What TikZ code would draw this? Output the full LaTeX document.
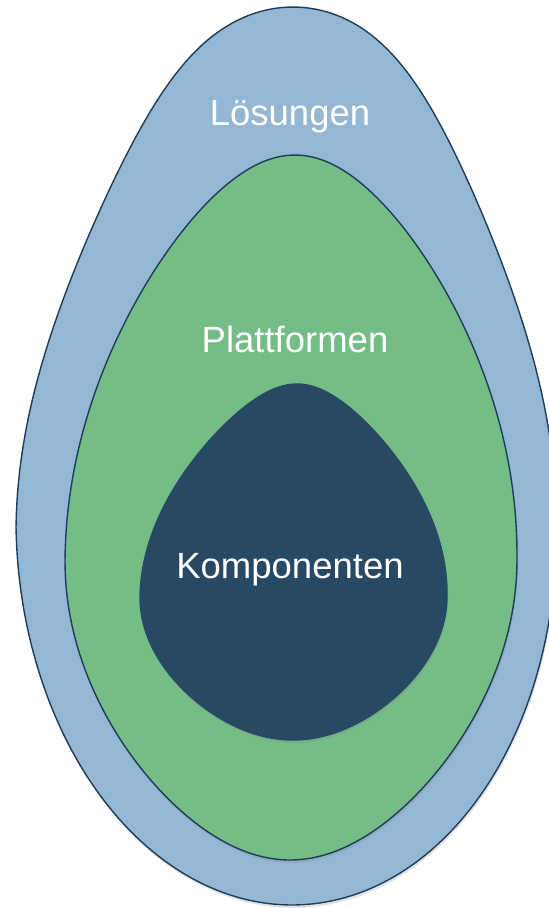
\documentclass[tikz,border=0pt]{standalone}
\usepackage{fontspec}
\setmainfont{Liberation Sans}
\usetikzlibrary{shadows}
\definecolor{eggblue}{RGB}{148,184,212}
\definecolor{egggreen}{RGB}{117,189,135}
\definecolor{eggdark}{RGB}{39,73,99}
\definecolor{eggline}{RGB}{31,60,88}
\tikzset{
  eggshape/.style={line width=1.4pt, draw=eggline, line join=round, drop shadow={shadow xshift=1pt, shadow yshift=-3pt, opacity=0.22}},
  egglabel/.style={text=white, font=\fontsize{36.5}{40}\selectfont, anchor=base, inner sep=0pt},
  eggsamples/.style={samples=120, variable=\t}
}
% #1 cx, #2 widest y, #3 half width, #4 upper height, #5 lower height,
% #6 upper width factor, #7 lower width factor, #8 top skew, #9 bottom skew
\newcommand{\eggplot}[9]{%
  plot[eggsamples, domain=0:180] ({#1+#8*sin(\t)+#3*cos(\t)*(#6)},{#2-#4*sin(\t)})
  -- plot[eggsamples, domain=180:360] ({#1-#9*sin(\t)+#3*cos(\t)*(#7)},{#2-#5*sin(\t)})
  -- cycle}
\begin{document}
\begin{tikzpicture}[x=1pt,y=-1pt]
\useasboundingbox (0,0) rectangle (549,908);
\path[eggshape, fill=eggblue]
  \eggplot{286}{527}{270}{520}{378}{1-0.431*sin(\t)*sin(\t)+0.357*sin(\t)*sin(\t)*sin(\t)*sin(\t)}{1}{7}{6};
\path[eggshape, fill=egggreen]
  \eggplot{291}{560}{226}{405}{300}{1-0.23*sin(\t)*sin(\t)}{1-0.17*sin(\t)*sin(\t)}{4}{-1};
\path[eggshape, fill=eggdark, draw=eggdark]
  \eggplot{293.5}{597}{153.5}{213}{143}{1-0.31*sin(\t)*sin(\t)}{1-0.14*sin(\t)*sin(\t)}{3.5}{-0.5};
\node[egglabel] (loes) at (290,125) {Lösungen};
\node[egglabel] (platt) at (295,352) {Plattformen};
\node[egglabel] (komp) at (290,578) {Komponenten};
\end{tikzpicture}
\end{document}
